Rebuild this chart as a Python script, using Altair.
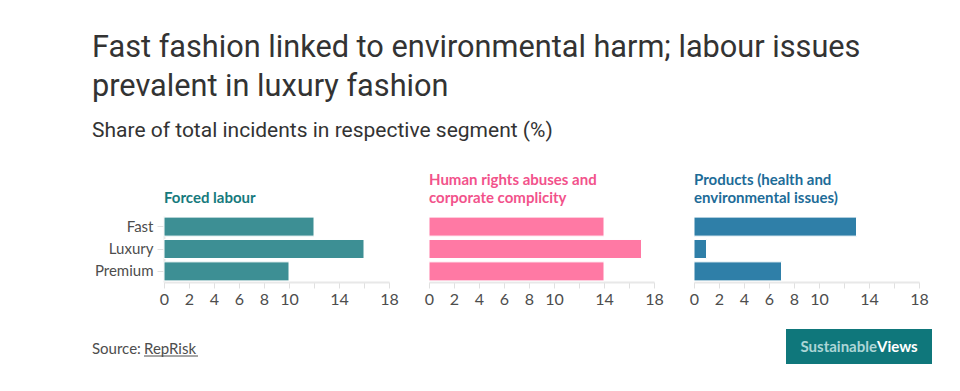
import altair as alt
import pandas as pd

segments = ["Fast", "Luxury", "Premium"]
forced_labour = [12, 16, 10]
human_rights = [14, 17, 14]
products = [13, 1, 7]

panel_titles = [
    ["Forced labour"],
    ["Human rights abuses and", "corporate complicity"],
    ["Products (health and", "environmental issues)"],
]
bar_colors = ["#3d8f94", "#ff79a4", "#2f7fa8"]
title_colors = ["#167a7d", "#f2528b", "#1d6c98"]
tick_values = [0, 2, 4, 6, 8, 10, 12, 14, 16, 18]
hidden_labels = [12, 16]

chart_title = ["Fast fashion linked to environmental harm; labour issues", "prevalent in luxury fashion"]
chart_subtitle = "Share of total incidents in respective segment (%)"
source_label = ["Source: "]
source_name = ["RepRisk"]
logo_a = ["Sustainable"]
logo_b = ["Views"]

label_expr = " || ".join(f"datum.value == {v}" for v in hidden_labels) + " ? '' : datum.label"


def bars(values, color, show_y):
    df = pd.DataFrame({"segment": segments, "value": values})
    if show_y:
        y_axis = alt.Axis(title=None, labelFontSize=15, labelColor="#4d4d4d", labelFont="Lato",
                          domainColor="#e8e8e8", tickColor="#e0e0e0", tickSize=7, labelPadding=4,
                          domainWidth=2)
    else:
        y_axis = None
    return alt.Chart(df).mark_bar(color=color, stroke="white", strokeWidth=1).encode(
        x=alt.X("value:Q", scale=alt.Scale(domain=[0, 18], nice=False),
                axis=alt.Axis(title=None, values=tick_values, labelExpr=label_expr, grid=False,
                              labelFontSize=16, labelColor="#4d4d4d", labelFont="Lato",
                              domainColor="#e8e8e8", domainWidth=2, tickColor="#e0e0e0", tickSize=6,
                              labelPadding=3, labelFlush=False, labelOverlap=False)),
        y=alt.Y("segment:N", sort=segments,
                scale=alt.Scale(paddingInner=0.15, paddingOuter=0.05), axis=y_axis),
    )


def titled(ch, title, tcolor):
    return ch.properties(
        width=225, height=66,
        title=alt.TitleParams(title, anchor="start", frame="group", color=tcolor, font="Lato", fontSize=15,
                              fontWeight="bold", offset=10, lineHeight=18),
    )


one = pd.DataFrame({"src": source_label, "name": source_name, "a": logo_a, "b": logo_b})
base = alt.Chart(one)
src1 = base.mark_text(align="left", baseline="alphabetic", font="Lato", fontSize=15, color="#4d4d4d").encode(
    x=alt.value(-72), y=alt.value(138), text="src:N")
src2 = base.mark_text(align="left", baseline="alphabetic", font="Lato", fontSize=15, color="#4d4d4d").encode(
    x=alt.value(-20), y=alt.value(138), text="name:N")
underline = base.mark_rule(color="#4d4d4d", strokeWidth=1).encode(
    x=alt.value(-20), x2=alt.value(34), y=alt.value(140))
logo_box = base.mark_rect(color="#0f777b").encode(
    x=alt.value(622), x2=alt.value(768), y=alt.value(113), y2=alt.value(148))
logo_t1 = base.mark_text(align="right", baseline="alphabetic", font="Lato", fontSize=15, fontWeight="bold",
                         color="#bfe0e0", opacity=0.9).encode(x=alt.value(713), y=alt.value(136), text="a:N")
logo_t2 = base.mark_text(align="left", baseline="alphabetic", font="Lato", fontSize=15, fontWeight="bold",
                         color="white").encode(x=alt.value(713), y=alt.value(136), text="b:N")

p1 = titled(alt.layer(bars(forced_labour, bar_colors[0], True), src1, src2, underline,
                      logo_box, logo_t1, logo_t2),
            panel_titles[0], title_colors[0])
p2 = titled(bars(human_rights, bar_colors[1], False), panel_titles[1], title_colors[1])
p3 = titled(bars(products, bar_colors[2], False), panel_titles[2], title_colors[2])

chart = alt.hconcat(p1, p2, p3, spacing=40, bounds="flush").properties(
    title=alt.TitleParams(chart_title, subtitle=chart_subtitle, anchor="start", font="Roboto",
                          fontSize=30.7, fontWeight="normal", color="#333333", lineHeight=39.5,
                          subtitleFont="Roboto", subtitleFontSize=21, subtitleColor="#333333",
                          subtitlePadding=17, offset=31),
    padding={"left": 84, "top": 23, "right": 10, "bottom": 10},
    background="white",
).configure_view(strokeWidth=0, stroke=None)

chart.save("out.html", embed_options={"renderer": "svg", "actions": False})
